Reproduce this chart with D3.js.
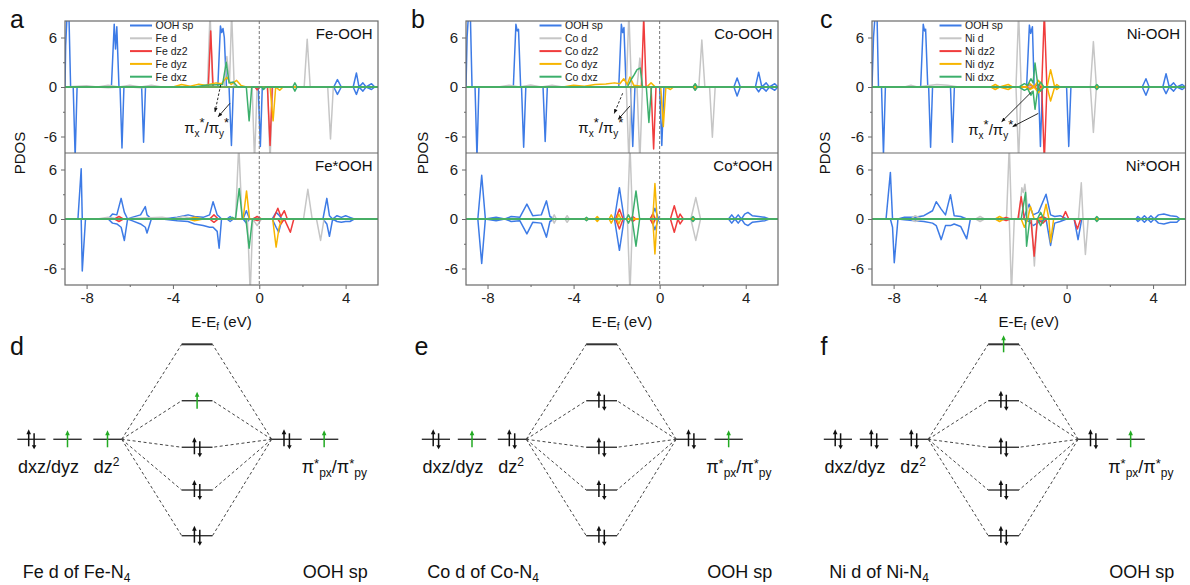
<!DOCTYPE html>
<html><head><meta charset="utf-8">
<script src="https://cdn.jsdelivr.net/npm/d3@7"></script>
<style>body{margin:0;background:#fff;} svg{display:block;font-family:"Liberation Sans",Arial,sans-serif;}</style>
</head><body><svg id="c" width="1190" height="585"></svg>
<script>
// ---------------- DATA: [E (eV), spin-up PDOS, spin-down PDOS] ----------------
const xTicks = [-8, -4, 0, 4], xMinor = [-6, -2, 2];
const yTicks = [-6, 0, 6], yMinor = [-3, 3];
const legendNames = ["OOH sp", "{M} d", "{M} dz2", "{M} dyz", "{M} dxz"];

// Fe-OOH
const feOOH_sp = [[-9,0,0],[-8.97,5,0],[-8.9,9,0],[-8.82,9,0],[-8.74,0,0],[-8.62,0,0],[-8.53,0,-8.5],[-8.44,0,0],
 [-6.85,0,0],[-6.72,7.6,0],[-6.66,4.6,0],[-6.6,7.3,0],[-6.5,0,0],[-6.45,0,0],[-6.36,0,-7.4],[-6.27,0,0],
 [-5.45,0,0],[-5.36,0,-6.7],[-5.27,0,0],[-1.92,0,0],[-1.8,7.4,0],[-1.74,6.6,0],[-1.68,7.1,0],[-1.62,6.0,0],[-1.52,0,0],
 [-1.4,0,0],[-1.29,0,-7.1],[-1.2,0,0],[-0.05,0,0],[0.05,0,-7.2],[0.14,0,0],
 [3.45,0,0],[3.62,0.9,-0.9],[3.8,0,0],[4.35,0,0],[4.5,1.7,-0.9],[4.62,0,0],[4.8,0.5,-0.5],[4.95,0,0],[5.2,0.4,-0.3],[5.35,0,0],[5.5,0,0]];
const feOOH_d = [[-9,0,0],[-8,0.15,0],[-7.5,0,0],[-7,0.2,-0.1],[-6.5,0,0],[-6,0.2,0],[-5.5,0,-0.1],[-5,0.2,0],[-4.5,0,0],
 [-2.4,0,0],[-2.28,9,0],[-2.16,0,0],[-1.62,0,0],[-1.5,3.7,0],[-1.38,0.5,0],[-1.28,9,0],[-1.16,0,0],
 [-0.33,0,0],[-0.22,0,-9],[-0.1,0,0],[0.38,0,0],[0.5,0,-9],[0.62,0,0],
 [2.08,0,0],[2.22,5.8,0],[2.36,0,0],[3.17,0,0],[3.3,0,-6.3],[3.43,0,0],[5.5,0,0]];
const feOOH_dz2 = [[-9,0,0],[-2.36,0,0],[-2.25,6.8,0],[-2.14,0,0],[-0.2,0,0],[-0.1,0,-0.35],[0,0,0],[0.38,0,0],[0.5,0,-7.1],[0.6,0,0],[5.5,0,0]];
const feOOH_dyz = [[-9,0,0],[-4,0,0],[-3.6,0.3,0],[-3.2,0.1,0],[-2.8,0.35,0],[-2.5,0.2,0],[-2.0,0.5,0],[-1.75,0.4,0],[-1.5,1.2,0],[-1.3,0.3,0],[-1.05,0.8,0],[-0.85,0.2,0],[-0.6,0,0],
 [0.5,0,0],[0.64,0,-4.1],[0.76,0,0],[0.95,0,-0.4],[1.1,0,0],[5.5,0,0]];
const feOOH_dxz = [[-9,0,0],[-3,0,0],[-2.5,0.2,0],[-1.7,0.3,0],[-1.53,3.0,0],[-1.4,0.5,0],[-1.2,0.6,0],[-1.0,0,0],[-0.6,0,0],[-0.47,0,-4.1],[-0.35,0,0],
 [0.1,0,0],[0.2,0,-0.3],[0.3,0,0],[1.55,0,0],[1.65,0.5,-0.5],[1.75,0,0],[5.5,0,0]];
// Fe*OOH
const feStar_sp = [[-9,0,0],[-8.4,0,0],[-8.25,6.1,0],[-8.2,0,-6.3],[-8.05,0,0],
 [-7,0,0],[-6.8,0.6,-0.5],[-6.6,0.5,-0.6],[-6.4,2.5,-1.0],[-6.25,0.8,-2.6],[-6.1,0,0],
 [-5.9,0.2,-0.2],[-5.5,0.5,-0.6],[-5.28,1.5,-1.0],[-5.2,0.5,-1.7],[-5.0,0,0],
 [-4.5,0,0],[-3.8,0.2,-0.2],[-3.3,0.5,-0.3],[-3.0,0.3,-0.6],[-2.6,0.2,-0.8],[-2.3,0.5,-1.0],[-2.14,2.1,-1.0],[-1.95,0.5,-1.5],[-1.86,0.3,-3.55],[-1.75,0,0],
 [-1.5,0,0],[-1.35,0.3,-0.3],[-1.2,0,0],[-0.75,0,0],[-0.6,1.0,-0.5],[-0.45,0,0],
 [0.6,0,0],[0.78,0.8,-1.0],[0.9,0.5,-1.6],[1.05,0,0],
 [2.95,0,0],[3.13,2.5,-0.6],[3.25,0.4,-2.1],[3.4,0,0],[3.6,0.4,-0.3],[3.8,0.2,-0.4],[4.0,0.4,-0.3],[4.2,0.2,-0.3],[4.4,0,0],[5.5,0,0]];
const feStar_d = [[-9,0,0],[-7.5,0,0],[-7,0.2,0],[-6.5,0,0],[-4.5,0.2,0],[-4,0,0],[-3.5,0.3,0],[-3,0,0],
 [-1.1,0,0],[-0.95,9,0],[-0.8,0,0],[-0.55,0,0],[-0.42,0,-9],[-0.3,0,0],[-0.1,0,-0.8],[0.1,0,0],
 [2.05,0,0],[2.25,3.6,0],[2.45,0,0],[2.65,0,0],[2.84,0,-2.6],[3.0,0,0],[5.5,0,0]];
const feStar_dz2 = [[-9,0,0],[-6.7,0,0],[-6.5,0.3,-0.3],[-6.3,0,0],[-2.3,0,0],[-2.1,0.5,-0.4],[-1.9,0,0],[-0.3,0,0],[-0.1,0.3,-0.2],[0.1,0,0],
 [0.65,0,0],[0.86,1.3,0],[1.0,0.3,-0.6],[1.16,1.0,0],[1.3,0,-0.8],[1.44,0,-1.6],[1.6,0,0],[5.5,0,0]];
const feStar_dyz = [[-9,0,0],[-3.3,0,0],[-3.0,0.2,-0.2],[-2.6,0,0],[-0.75,0,0],[-0.59,3.4,0],[-0.45,0,0],[0.62,0,0],[0.78,0,-3.4],[0.92,0,-1.0],[1.05,0,0],[5.5,0,0]];
const feStar_dxz = [[-9,0,0],[-1.4,0,0],[-1.25,0.2,0],[-1.1,0,0],[-0.93,3.7,0],[-0.78,0,0],[-0.62,0,0],[-0.47,0,-3.55],[-0.32,0,0],[5.5,0,0]];
// Co-OOH
const coOOH_sp = [[-9,0,0],[-8.95,6,0],[-8.88,9,0],[-8.8,9,0],[-8.72,0,0],[-8.58,0,0],[-8.49,0,-8.5],[-8.4,0,0],
 [-6.8,0,0],[-6.68,7.6,0],[-6.62,6.8,0],[-6.56,7.0,0],[-6.46,0,0],[-6.42,0,0],[-6.32,0,-7.3],[-6.22,0,0],
 [-5.42,0,0],[-5.32,0,-6.6],[-5.22,0,0],[-1.9,0,0],[-1.78,7.6,0],[-1.72,6.6,0],[-1.66,7.2,0],[-1.56,0,0],
 [-1.35,0,0],[-1.25,0,-7.2],[-1.15,0,0],[0,0,0],[0.1,0,-7.1],[0.2,0,0],
 [3.45,0,0],[3.6,1.1,-1.1],[3.75,0,0],[4.45,0,0],[4.6,1.8,-0.6],[4.75,0,0],[4.95,0.5,-0.5],[5.1,0,0],[5.35,0.4,-0.4],[5.5,0,0]];
const coOOH_d = [[-9,0,0],[-7.5,0,0],[-7,0.2,0],[-6.5,0,0],[-6,0.25,0],[-5.5,0,0],[-5,0.2,0],[-4.5,0,0],
 [-1.55,0,0],[-1.43,9,-9],[-1.31,0,0],[-1.05,0,0],[-0.92,3.5,-9],[-0.8,0,0],
 [1.82,0,0],[1.96,5.7,0],[2.1,0,0],[2.32,0,0],[2.45,0,-6.1],[2.58,0,0],[5.5,0,0]];
const coOOH_dz2 = [[-9,0,0],[-0.85,0,0],[-0.74,8.5,0],[-0.63,0,0],[-0.4,0,0],[-0.28,0,-7.5],[-0.17,0,0],[1.55,0,0],[1.65,0.3,-0.3],[1.75,0,0],[5.5,0,0]];
const coOOH_dyz = [[-9,0,0],[-4.5,0,0],[-4,0.2,0],[-3.5,0.1,0],[-3,0.3,0],[-2.5,0.35,0],[-2.1,0.5,0],[-1.85,0.4,0],[-1.67,1.0,0],[-1.5,0.3,0],[-1.38,1.2,0],[-1.2,0.2,0],[-0.6,0,0],[-0.4,0.5,0],[-0.2,0,0],
 [0.05,0,0],[0.17,0,-4.8],[0.29,0,0],[0.5,0,-0.3],[0.65,0,0],[5.5,0,0]];
const coOOH_dxz = [[-9,0,0],[-1.5,0,0],[-1.3,1.0,0],[-1.18,1.5,0],[-1.05,2.1,0],[-0.9,2.3,0],[-0.8,0,0],[-0.62,0,0],[-0.5,0,-4.3],[-0.38,0,0],[1.55,0,0],[1.65,0.4,-0.4],[1.75,0,0],[5.5,0,0]];
// Co*OOH
const coStar_sp = [[-9,0,0],[-8.45,0,0],[-8.27,5.3,-5.4],[-8.1,0,0],[-7.6,0.2,-0.2],[-7.2,0,0],[-6.9,0.3,-0.3],[-6.5,0.2,-0.2],[-6.17,1.8,-1.8],[-5.9,0.4,-0.4],[-5.5,0.5,-0.5],[-5.26,2.2,-2.2],[-5.1,0.3,-0.3],[-4.9,0,0],
 [-2.1,0,0],[-1.87,3.8,-3.8],[-1.65,0,0],[-0.4,0,0],[-0.22,1.3,-1.3],[-0.05,0,0],
 [3.2,0,0],[3.35,0.5,-0.5],[3.5,0,0],[3.65,0.5,-0.5],[3.8,0,0],[3.95,0.6,-0.6],[4.1,0.8,-0.8],[4.3,0.4,-0.4],[4.6,0.3,-0.3],[4.9,0.2,-0.2],[5.1,0,0],[5.5,0,0]];
const coStar_d = [[-9,0,0],[-5.0,0,0],[-4.9,0.5,-0.5],[-4.8,0,0],[-4.4,0,0],[-4.3,0.4,-0.4],[-4.2,0,0],[-1.5,0,0],[-1.38,9,-9],[-1.26,0,0],
 [-0.4,0,0],[-0.3,0.8,-0.8],[-0.2,0,0],[1.45,0,0],[1.68,2.6,-2.6],[1.9,0,0],[5.5,0,0]];
const coStar_dz2 = [[-9,0,0],[-2.05,0,0],[-1.87,1.2,-1.2],[-1.7,0,0],[-1.35,0,0],[-1.25,0.3,-0.3],[-1.1,0,0],[-0.45,0,0],[-0.32,0.6,-0.6],[-0.2,0,0],
 [0.5,0,0],[0.68,1.6,-1.6],[0.85,0,0],[0.95,0.6,-0.6],[1.1,0,0],[5.5,0,0]];
const coStar_dyz = [[-9,0,0],[-3.0,0,0],[-2.9,0.3,-0.3],[-2.8,0,0],[-2.35,0,0],[-2.25,0.5,-0.5],[-2.15,0,0],[-1.98,0,0],[-1.9,0.6,-0.6],[-1.8,0,0],[-0.32,0,0],[-0.22,4.3,-4.25],[-0.12,0,0],[5.5,0,0]];
const coStar_dxz = [[-9,0,0],[-3.5,0,0],[-3.4,0.2,-0.2],[-3.3,0,0],[-1.55,0,0],[-1.45,0.5,-0.5],[-1.35,0,0],[-1.28,0,0],[-1.1,3.4,-3.3],[-0.93,0,0],[1.45,0,0],[1.55,0.3,-0.3],[1.65,0,0],[5.5,0,0]];
// Ni-OOH
const niOOH_sp = [[-9,0,0],[-8.93,6,0],[-8.85,9,0],[-8.77,9,0],[-8.7,0,0],[-8.56,0,0],[-8.47,0,-8.2],[-8.38,0,0],
 [-6.75,0,0],[-6.63,7.6,0],[-6.57,6.8,0],[-6.52,7.0,0],[-6.42,0,0],[-6.38,0,0],[-6.29,0,-7.3],[-6.2,0,0],
 [-5.37,0,0],[-5.28,0,-6.7],[-5.19,0,0],[-1.85,0,0],[-1.72,7.5,0],[-1.66,6.5,0],[-1.58,7.3,0],[-1.5,0,0],
 [-1.3,0,0],[-1.21,0,-7.2],[-1.12,0,0],[0,0,0],[0.1,0,-7.2],[0.2,0,0],
 [3.5,0,0],[3.67,1.0,-1.0],[3.82,0,0],[4.45,0,0],[4.6,1.6,-0.8],[4.75,0,0],[4.95,0.5,-0.5],[5.1,0,0],[5.35,0.3,-0.3],[5.5,0,0]];
const niOOH_d = [[-9,0,0],[-7.5,0,0],[-7.2,0.2,0],[-6.9,0,0],[-6,0.3,0],[-5.5,0.2,0],[-5,0,0],
 [-2.34,0,0],[-2.22,9,-9],[-2.1,0,0],[1.1,0,0],[1.24,5.5,-5.5],[1.38,0,0],[5.5,0,0]];
const niOOH_dz2 = [[-9,0,0],[-1.9,0,0],[-1.7,0.3,-0.2],[-1.5,0,0],[-1.35,0.3,-0.3],[-1.15,0,0],[-1.03,9,-9],[-0.91,0,0],[5.5,0,0]];
const niOOH_dyz = [[-9,0,0],[-3.5,0,0],[-3.3,0.3,-0.3],[-3.1,0,0],[-2.7,0.3,-0.3],[-2.5,0,0],[-1.9,0,0],[-1.7,0.4,-0.3],[-1.5,0,0],[-1.3,0.8,-0.7],[-1.1,0,0],[-0.9,0,0],[-0.74,2.1,-1.7],[-0.55,0,0],[-0.45,0.3,-0.3],[-0.3,0,0],[5.5,0,0]];
const niOOH_dxz = [[-9,0,0],[-2.2,0,0],[-1.95,0.4,-0.4],[-1.8,0.2,-0.2],[-1.65,1.0,-1.0],[-1.55,0.5,-0.5],[-1.46,2.9,-2.7],[-1.32,0,0],[-1.2,0.6,-0.5],[-1.05,0,0],[1.3,0,0],[1.4,0.3,-0.3],[1.5,0,0],[5.5,0,0]];
// Ni*OOH
const niStar_sp = [[-9,0,0],[-8.35,0,0],[-8.15,5.65,0],[-8.05,0,-1.0],[-7.97,0,-5.3],[-7.8,0,0],
 [-7.5,0.2,-0.1],[-7,0.2,-0.2],[-6.6,0.4,-0.3],[-6.2,1.0,-0.5],[-6.03,2.1,-0.8],[-5.8,1.2,-2.5],[-5.6,0.5,-0.8],[-5.37,2.95,-0.8],[-5.2,0.4,-0.6],[-4.9,0.3,-0.9],[-4.62,0,-2.4],[-4.45,0,0],
 [-2.0,0,0],[-1.73,1.8,-0.3],[-1.55,0.5,-0.8],[-1.3,0.8,-0.4],[-0.95,3.0,0],[-0.74,0.5,-3.2],[-0.55,0.3,-0.5],[-0.3,0.4,-0.3],[0.0,0,0],[0.35,0,0],[0.53,0,-2.5],[0.7,0,0],
 [3.2,0,0],[3.3,0.3,-0.3],[3.45,0,0],[3.6,0.4,-0.4],[3.75,0,0],[3.9,0.4,-0.4],[4.05,0,0],[4.25,0.5,-0.5],[4.5,0.6,-0.6],[4.8,0.4,-0.4],[5.1,0.3,-0.4],[5.25,0,0],[5.5,0,0]];
const niStar_d = [[-9,0,0],[-7.2,0,0],[-7.0,0.4,-0.3],[-6.7,0,0],[-4.2,0,0],[-4.0,0.3,-0.3],[-3.8,0,0],
 [-2.78,0,0],[-2.65,9,0],[-2.55,0,-9],[-2.42,0,0],[-2.2,0,0],[-2.07,3.8,0],[-2.0,3.2,0],[-1.93,4.2,0],[-1.75,0,0],[-1.62,0,0],[-1.49,0,-5.7],[-1.36,0,0],
 [0.55,0,0],[0.68,4.4,0],[0.76,0,0],[0.87,0,-4.3],[1.0,0,0],[5.5,0,0]];
const niStar_dz2 = [[-9,0,0],[-3,0,0],[-2.8,0.2,-0.2],[-2.6,0,0],[-2.25,0,0],[-2.1,2.7,0],[-1.95,0,0],[-1.65,0,0],[-1.5,0,-4.5],[-1.35,0,0],[-1.1,0.3,-0.5],[-0.9,0,0],
 [-0.2,0,0],[-0.05,0.9,0],[0.1,0,0],[0.35,0,0],[0.5,0,-1.2],[0.65,0,0],[5.5,0,0]];
const niStar_dyz = [[-9,0,0],[-3.3,0,0],[-3.1,0.3,-0.3],[-2.9,0,0],[-2.1,0,0],[-1.95,0,-1.0],[-1.8,0,0],[-1.67,1.5,0],[-1.5,0,0],[-1.1,0,0],[-0.95,1.8,0],[-0.82,0,0],[-0.74,0,-2.8],[-0.6,0,0],[5.5,0,0]];
const niStar_dxz = [[-9,0,0],[-2.1,0,0],[-1.9,3.2,0],[-1.85,0,-3.3],[-1.7,0,0],[-1.35,0,0],[-1.2,0.8,-0.8],[-1.05,0,0],[1.3,0,0],[1.4,0.3,-0.3],[1.5,0,0],[5.5,0,0]];

// annotation arrows (data units): [E1,v1,E2,v2,dashed]
const annFe = {text:[-3.48,-5.58], arrows:[[-1.79,0.24,-2.05,-3.0,true],[-1.36,-1.98,-1.9,-3.6,false]]};
const annCo = {text:[-3.78,-5.58], arrows:[[-1.72,-0.76,-2.11,-3.19,true],[-1.38,-2.3,-1.92,-3.9,false]]};
const annNi = {text:[-4.55,-5.8], arrows:[[-1.61,-0.57,-3.0,-4.2,false],[-1.31,-3.2,-2.49,-4.8,false]]};

// orbital diagrams: energies (arb.) and occupations
const atomicE = 0;
const moE = [10, 4.06, -0.84, -5.34, -10.15];
const occFe = {left:["ud","u","u"], mo:["","u","ud","ud","ud"], right:["ud","u"]};
const occCo = {left:["ud","u","ud"], mo:["","ud","ud","ud","ud"], right:["ud","u"]};
const occNi = {left:["ud","ud","ud"], mo:["u","ud","ud","ud","ud"], right:["ud","u"]};

// ---------------- DRAWING ----------------
const svg = d3.select("#c");
const colors = {sp:"#3d7be6", d:"#c6c6c6", dz2:"#f03c3c", dyz:"#f7b500", dxz:"#3caf6c"};
const orbitals = ["sp","d","dz2","dyz","dxz"];
const TOP = 21, MID = 153, BOT = 285;
const frameCol = "#6a6a6a";
const green = "#22aa22";

const panels = [
 {letter:"a", M:"Fe", L:65, R:378, dashed:true, legX:130, ylab:25,
  top:[feOOH_sp,feOOH_d,feOOH_dz2,feOOH_dyz,feOOH_dxz], bot:[feStar_sp,feStar_d,feStar_dz2,feStar_dyz,feStar_dxz], ann:annFe},
 {letter:"b", M:"Co", L:466, R:778, dashed:true, legX:539.5, ylab:428,
  top:[coOOH_sp,coOOH_d,coOOH_dz2,coOOH_dyz,coOOH_dxz], bot:[coStar_sp,coStar_d,coStar_dz2,coStar_dyz,coStar_dxz], ann:annCo},
 {letter:"c", M:"Ni", L:872, R:1185.5, dashed:false, legX:939.5, ylab:830,
  top:[niOOH_sp,niOOH_d,niOOH_dz2,niOOH_dyz,niOOH_dxz], bot:[niStar_sp,niStar_d,niStar_dz2,niStar_dyz,niStar_dxz], ann:annNi}
];

const defs = svg.append("defs");
defs.append("marker").attr("id","ah").attr("viewBox","0 0 10 10").attr("refX",9).attr("refY",5)
  .attr("markerWidth",5).attr("markerHeight",5).attr("orient","auto-start-reverse")
  .append("path").attr("d","M0,1 L10,5 L0,9 Z").attr("fill","#111");

panels.forEach((p, pi) => {
  const x = d3.scaleLinear().domain([-9, 5.5]).range([p.L, p.R]);
  const subs = [{data:p.top, y0:TOP, y1:MID, title:p.M+"-OOH"}, {data:p.bot, y0:MID, y1:BOT, title:p.M+"*OOH"}];
  subs.forEach((s, si) => {
    const y = d3.scaleLinear().domain([-8, 8]).range([s.y1, s.y0]);
    const cid = "clip"+pi+"_"+si;
    defs.append("clipPath").attr("id",cid).append("rect").attr("x",p.L).attr("y",s.y0).attr("width",p.R-p.L).attr("height",s.y1-s.y0);
    const g = svg.append("g").attr("clip-path",`url(#${cid})`);
    const lu = d3.line().x(d=>x(d[0])).y(d=>y(d[1]));
    const ld = d3.line().x(d=>x(d[0])).y(d=>y(d[2]));
    s.data.forEach((arr, k) => {
      [lu, ld].forEach(ln => g.append("path").attr("d", ln(arr)).attr("fill","none")
        .attr("stroke", colors[orbitals[k]]).attr("stroke-width",1.5).attr("stroke-linejoin","round"));
    });
    // y axis
    const ga = svg.append("g").attr("transform",`translate(${p.L},0)`)
      .call(d3.axisLeft(y).tickValues(yTicks).tickSize(4).tickPadding(4).tickFormat(d=>String(d)));
    ga.select(".domain").remove();
    ga.selectAll("text").attr("font-size",15).attr("fill","#222").attr("font-family","Liberation Sans, Arial, sans-serif");
    ga.selectAll("line").attr("stroke",frameCol);
    const gm = svg.append("g").attr("transform",`translate(${p.L},0)`)
      .call(d3.axisLeft(y).tickValues(yMinor).tickSize(2).tickFormat(""));
    gm.select(".domain").remove(); gm.selectAll("line").attr("stroke",frameCol);
    // title
    svg.append("text").attr("x",p.R-5.5).attr("y",s.y0+17.5).attr("text-anchor","end")
      .attr("font-size",15).attr("fill","#111").text(s.title);
    if (si === 0) {
      // annotation
      const a = p.ann;
      a.arrows.forEach(ar => {
        svg.append("line").attr("x1",x(ar[0])).attr("y1",y(ar[1])).attr("x2",x(ar[2])).attr("y2",y(ar[3]))
          .attr("stroke","#111").attr("stroke-width",0.9).attr("stroke-dasharray", ar[4] ? "2.5,1.8" : null)
          .attr("marker-end","url(#ah)");
      });
      const t = svg.append("text").attr("x",x(a.text[0])).attr("y",y(a.text[1])).attr("font-size",15).attr("fill","#111");
      t.append("tspan").text("π");
      t.append("tspan").attr("dy",4).attr("font-size",10).text("x");
      t.append("tspan").attr("dy",-10).attr("font-size",13).text("*");
      t.append("tspan").attr("dy",6).text("/π");
      t.append("tspan").attr("dy",4).attr("font-size",10).text("y");
      t.append("tspan").attr("dy",-10).attr("font-size",13).text("*");
      // legend
      orbitals.forEach((o, k) => {
        const ly = 25.5 + k*12.8;
        svg.append("line").attr("x1",p.legX).attr("x2",p.legX+22).attr("y1",ly).attr("y2",ly)
          .attr("stroke",colors[o]).attr("stroke-width",2);
        svg.append("text").attr("x",p.legX+25.5).attr("y",ly+3.8).attr("font-size",10.5).attr("fill","#222")
          .text(legendNames[k].replace("{M}", p.M));
      });
    } else {
      const gx = svg.append("g").attr("transform",`translate(0,${BOT})`)
        .call(d3.axisBottom(x).tickValues(xTicks).tickSize(4).tickPadding(3).tickFormat(d=>String(d)));
      gx.select(".domain").remove();
      gx.selectAll("text").attr("font-size",15).attr("fill","#222").attr("font-family","Liberation Sans, Arial, sans-serif");
      gx.selectAll("line").attr("stroke",frameCol);
      const gxm = svg.append("g").attr("transform",`translate(0,${BOT})`)
        .call(d3.axisBottom(x).tickValues(xMinor).tickSize(2).tickFormat(""));
      gxm.select(".domain").remove(); gxm.selectAll("line").attr("stroke",frameCol);
    }
  });
  if (p.dashed) {
    svg.append("line").attr("x1",x(0)).attr("x2",x(0)).attr("y1",TOP).attr("y2",BOT)
      .attr("stroke","#777").attr("stroke-width",1).attr("stroke-dasharray","3,2");
  }
  // frames
  svg.append("rect").attr("x",p.L).attr("y",TOP).attr("width",p.R-p.L).attr("height",BOT-TOP)
    .attr("fill","none").attr("stroke",frameCol).attr("stroke-width",1.2);
  svg.append("line").attr("x1",p.L).attr("x2",p.R).attr("y1",MID).attr("y2",MID).attr("stroke",frameCol).attr("stroke-width",1.2);
  // axis labels
  svg.append("text").attr("transform",`translate(${p.ylab},${(TOP+BOT)/2}) rotate(-90)`).attr("text-anchor","middle")
    .attr("font-size",15).attr("fill","#111").text("PDOS");
  const xl = svg.append("text").attr("x",(p.L+p.R)/2).attr("y",327).attr("text-anchor","middle").attr("font-size",15).attr("fill","#111");
  xl.append("tspan").text("E-E");
  xl.append("tspan").attr("dy",3).attr("font-size",10).text("f");
  xl.append("tspan").attr("dy",-3).text(" (eV)");
  // letter
  svg.append("text").attr("x",p.L-55+ (pi===2?3:0)).attr("y",28).attr("font-size",25).attr("fill","#111").text(p.letter);
});

// ---------------- ORBITAL DIAGRAMS ----------------
const diagrams = [
 {letter:"d", M:"Fe", off:0, occ:occFe},
 {letter:"e", M:"Co", off:404.5, occ:occCo},
 {letter:"f", M:"Ni", off:806.5, occ:occNi}
];
const ey = d3.scaleLinear().domain([-10.15, 10]).range([535.7, 344.3]);

function upArrow(g, cx, y, col) {
  g.append("line").attr("x1",cx).attr("x2",cx).attr("y1",y+8).attr("y2",y-5).attr("stroke",col).attr("stroke-width",1.5);
  g.append("path").attr("d",`M${cx-2.3},${y-4} L${cx},${y-9} L${cx+2.3},${y-4} Z`).attr("fill",col);
}
function downArrow(g, cx, y, col) {
  g.append("line").attr("x1",cx).attr("x2",cx).attr("y1",y-6).attr("y2",y+7).attr("stroke",col).attr("stroke-width",1.5);
  g.append("path").attr("d",`M${cx-2.3},${y+6} L${cx},${y+10} L${cx+2.3},${y+6} Z`).attr("fill",col);
}
function electrons(g, cx, y, occ) {
  if (occ === "ud") { upArrow(g, cx-2.7, y-1, "#111"); downArrow(g, cx+2.7, y, "#111"); }
  else if (occ === "u") { upArrow(g, cx, y, green); }
}

diagrams.forEach(D => {
  const g = svg.append("g").attr("transform",`translate(${D.off},0)`);
  const yA = ey(atomicE);
  const leftLv = [[17.3,45.5],[53.3,81.7],[93.3,121.7]];
  const rightLv = [[271.7,301.7],[310,338.3]];
  const moX = [181.7, 212.5];
  // dashed connectors
  moE.forEach(e => {
    g.append("line").attr("x1",leftLv[2][1]).attr("y1",yA).attr("x2",moX[0]).attr("y2",ey(e))
      .attr("stroke","#444").attr("stroke-width",1).attr("stroke-dasharray","3,2.5");
    g.append("line").attr("x1",rightLv[0][0]).attr("y1",yA).attr("x2",moX[1]).attr("y2",ey(e))
      .attr("stroke","#444").attr("stroke-width",1).attr("stroke-dasharray","3,2.5");
  });
  const lvl = (x1,x2,y,w) => g.append("line").attr("x1",x1).attr("x2",x2).attr("y1",y).attr("y2",y)
      .attr("stroke","#333").attr("stroke-width",w||1.4);
  leftLv.forEach((l,i) => { lvl(l[0],l[1],yA); electrons(g,(l[0]+l[1])/2,yA,D.occ.left[i]); });
  rightLv.forEach((l,i) => { lvl(l[0],l[1],yA); electrons(g,(l[0]+l[1])/2,yA,D.occ.right[i]); });
  moE.forEach((e,i) => { lvl(moX[0],moX[1],ey(e), i===0?2:1.4); electrons(g,(moX[0]+moX[1])/2,ey(e),D.occ.mo[i]); });
  // labels
  g.append("text").attr("x",48.5).attr("y",473.3).attr("text-anchor","middle").attr("font-size",18).attr("fill","#111").text("dxz/dyz");
  const dz = g.append("text").attr("x",106.5).attr("y",473.3).attr("text-anchor","middle").attr("font-size",18).attr("fill","#111");
  dz.append("tspan").text("dz"); dz.append("tspan").attr("dy",-7).attr("font-size",12).text("2");
  const pl = g.append("text").attr("x",301.7).attr("y",473.3).attr("font-size",18).attr("fill","#111");
  pl.append("tspan").text("π"); pl.append("tspan").attr("dy",-5).attr("font-size",13).text("*");
  pl.append("tspan").attr("dy",9).attr("font-size",12).text("px");
  pl.append("tspan").attr("dy",-4).text("/π"); pl.append("tspan").attr("dy",-5).attr("font-size",13).text("*");
  pl.append("tspan").attr("dy",9).attr("font-size",12).text("py");
  const bl = g.append("text").attr("x",22.7).attr("y",578).attr("font-size",18).attr("fill","#111");
  bl.append("tspan").text(`${D.M} d of ${D.M}-N`); bl.append("tspan").attr("dy",4).attr("font-size",12).text("4");
  g.append("text").attr("x",302.7).attr("y",578).attr("font-size",18).attr("fill","#111").text("OOH sp");
  g.append("text").attr("x",D.letter==="f"?14:10).attr("y",355).attr("font-size",25).attr("fill","#111").text(D.letter);
});
</script></body></html>
